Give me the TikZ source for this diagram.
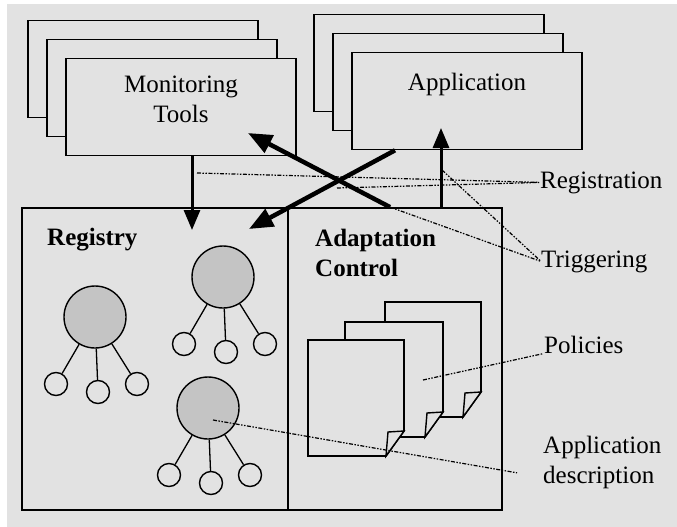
\documentclass[tikz,border=0pt]{standalone}
\usepackage{fontspec}
\setmainfont{Liberation Serif}
\usetikzlibrary{arrows.meta,calc}
\definecolor{scan}{HTML}{E2E2E2}
\definecolor{rootgray}{HTML}{C4C4C4}
\tikzset{
	txt/.style={font=\fontsize{25}{30}\selectfont, inner sep=0pt},
	txtbold/.style={inner sep=0pt, font=\fontsize{25}{30}\selectfont\bfseries},
	stackbox/.style={draw, fill=scan, line width=1.6pt, minimum width=230pt, minimum height=97pt},
	bigbox/.style={draw, line width=1.8pt, minimum height=302pt},
	root/.style={circle, draw, fill=rootgray, line width=1.4pt, minimum size=62pt, inner sep=0pt},
	leaf/.style={circle, draw, fill=scan, line width=1.4pt, minimum size=23pt, inner sep=0pt},
	twig/.style={line width=1.3pt},
	bigarrow/.style={line width=3pt, -{Triangle[length=20pt,width=16pt]}},
	crossarrow/.style={line width=4.5pt, -{Triangle[length=24pt,width=19pt]}},
	tagline/.style={line width=1.2pt, shorten >=1pt, dash pattern=on 4pt off 1.5pt on 1.5pt off 1.5pt on 1.5pt off 1.5pt}
}
\newcommand\tree[2]{%
	\node[root] (#1) at (#2) {};
	\node[leaf] (#1l) at ([shift={(-39,67)}]#1) {};
	\node[leaf] (#1m) at ([shift={(3,75)}]#1) {};
	\node[leaf] (#1r) at ([shift={(42,67)}]#1) {};
	\draw[twig] (#1) -- (#1l) (#1) -- (#1m) (#1) -- (#1r);}
\newcommand\policypage[4]{%
	\draw[line width=1.6pt, fill=scan] (#1,#2) -- (#3,#2) -- (#3,#4-25) -- (#3-18,#4) -- (#1,#4) -- cycle;
	\draw[line width=1.4pt, fill=scan] (#3-18,#4) -- (#3-16,#4-24) -- (#3,#4-25) -- cycle;}

\begin{document}
\begin{tikzpicture}[x=1pt,y=-1pt]
	%%%%% BACKGROUND %%%%%
	\useasboundingbox (0,0) rectangle (677,527);
	\fill[white] (0,0) rectangle (677,527);
	\fill[scan] (7,4) rectangle (677,527);
	
	%%%%% STACKS %%%%%
	\foreach \s in {38,19} {
		\node[stackbox] (mt\s) at (181-\s,107-\s) {};
		\node[stackbox] (app\s) at (467-\s,101-\s) {};
	}
	\node[stackbox] (mt) at (181,107) {};
	\node[stackbox] (app) at (467,101) {};
	\node[txt, align=center, anchor=north] (mttxt) at (181,76) {Monitoring\\Tools};
	\node[txt, anchor=base] (apptxt) at (467,90) {Application};
	
	%%%%% REGISTRY / ADAPTATION CONTROL %%%%%
	\node[bigbox, minimum width=266pt] (registry) at (155,359) {};
	\node[bigbox, minimum width=214pt] (adapt) at (395,359) {};
	\node[txtbold, anchor=base west] (regtxt) at (47,245) {Registry};
	\node[txtbold, align=left, anchor=north west] (actxt) at (315,229) {Adaptation\\Control};
	
	\tree{ta}{95,317}
	\tree{tb}{223,277}
	\tree{tc}{208,408}
	
	\policypage{385}{302}{481}{417}
	\policypage{345}{322}{443}{437}
	\policypage{308}{340}{404}{456}
	
	%%%%% ARROWS %%%%%
	\coordinate (regIn) at (192,230);
	\coordinate (appIn) at (441,128);
	\coordinate (mtIn) at (248,133);
	\coordinate (regIn2) at (249,229);
	\draw[bigarrow] (mt.south -| regIn) -- (regIn);
	\draw[bigarrow] (adapt.north -| appIn) -- (appIn);
	\draw[crossarrow] ($(adapt.north)+(-5,0)$) -- (mtIn);
	\draw[crossarrow] ($(app.south)+(-72,0)$) -- (regIn2);
	
	%%%%% CALLOUTS %%%%%
	\node[txt, anchor=base west] (lblreg) at (540,188) {Registration};
	\node[txt, anchor=base west] (lbltrig) at (541,267) {Triggering};
	\node[txt, anchor=base west] (lblpol) at (544,353) {Policies};
	\node[txt, align=left, anchor=north west] (lbldesc) at (543,436) {Application\\description};
	
	\coordinate (regFrom) at (197,173);
	\coordinate (regFrom2) at (337,188);
	\coordinate (trigFrom) at (442,170);
	\coordinate (polFrom) at (423,380);
	\coordinate (descFrom) at (213,420);
	\coordinate (descTo) at (518,473);
	\draw[tagline] (regFrom) -- (lblreg.west);
	\draw[tagline] (regFrom2) -- (lblreg.west);
	\draw[tagline] ($(adapt.north)+(-5,0)$) -- (lbltrig.west);
	\draw[tagline] (trigFrom) -- (lbltrig.west);
	\draw[tagline] (polFrom) -- (lblpol.south west);
	\draw[tagline] (descFrom) -- (descTo);
\end{tikzpicture}
\end{document}
